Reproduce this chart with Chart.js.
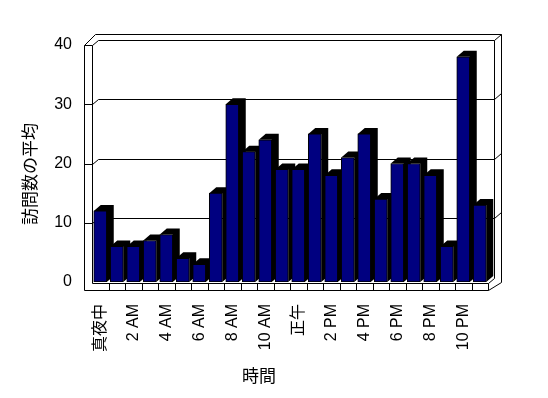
<!DOCTYPE html>
<html lang="ja">
<head>
<meta charset="UTF-8">
<title>訪問数の平均</title>
<script src="https://cdn.jsdelivr.net/npm/chart.js"></script>
<style>
  body { margin: 0; background: #fff; }
  #wrap { width: 548px; height: 398px; }
</style>
</head>
<body>
<div id="wrap"><canvas id="chart" width="548" height="398"></canvas></div>
<script>
// data
const hours = ['真夜中', '1 AM', '2 AM', '3 AM', '4 AM', '5 AM', '6 AM', '7 AM', '8 AM', '9 AM', '10 AM', '11 AM',
  '正午', '1 PM', '2 PM', '3 PM', '4 PM', '5 PM', '6 PM', '7 PM', '8 PM', '9 PM', '10 PM', '11 PM'];
const visits = [12, 6, 6, 7, 8, 4, 3, 15, 30, 22, 24, 19, 19, 25, 18, 21, 25, 14, 20, 20, 18, 6, 38, 13];
const yTicks = [0, 10, 20, 30, 40];
const yTitle = '訪問数の平均';
const xTitle = '時間';

const FONT = "'Liberation Sans', 'Noto Sans CJK JP', sans-serif";
const WALL_DX = 6, WALL_DY = 5;   // front plane -> back wall
const BAR_DX = 7, BAR_DY = 6;     // bar depth
const px = v => Math.round(v) + 0.5;

// walls, floor and gridlines drawn like an old 3D column chart
const frame3d = {
  id: 'frame3d',
  beforeDatasetsDraw(chart) {
    const { ctx, chartArea: a, scales: { x, y } } = chart;
    const L = a.left, R = a.right, B = a.bottom;
    const OL = L - 8, OR = R + WALL_DX + 7;
    const topY = y.getPixelForValue(yTicks[yTicks.length - 1]);
    const line = pts => {
      ctx.beginPath();
      pts.forEach(([qx, qy], i) => i ? ctx.lineTo(px(qx), px(qy)) : ctx.moveTo(px(qx), px(qy)));
      ctx.stroke();
    };
    ctx.save();
    ctx.strokeStyle = '#000';
    ctx.lineWidth = 1;

    yTicks.slice(1).forEach(v => {
      const yy = y.getPixelForValue(v);
      line([[OL, yy], [L, yy], [L + WALL_DX, yy - WALL_DY], [R + WALL_DX, yy - WALL_DY], [OR, yy - WALL_DY - 6]]);
    });
    // outer shell
    line([[OL, B + 8], [OL, topY], [OL + 11, topY - 11], [OR, topY - 11], [OR, B], [R, B + 8], [OL, B + 8]]);
    // inner edges
    line([[L, topY], [L, B + 1], [R, B + 1], [R + WALL_DX, B + 1 - WALL_DY], [R + WALL_DX, topY - WALL_DY]]);
    line([[R, B + 1], [R, B + 8]]);
    // category ticks on the floor
    for (let i = 1; i < hours.length; i++) {
      const xx = (x.getPixelForValue(i - 1) + x.getPixelForValue(i)) / 2;
      line([[xx, B + 1], [xx, B + 8]]);
    }
    // bar depth
    ctx.fillStyle = '#000';
    chart.getDatasetMeta(0).data.forEach(bar => {
      const x0 = bar.x - bar.width / 2, x1 = bar.x + bar.width / 2;
      ctx.beginPath();
      ctx.moveTo(x0, bar.y);
      ctx.lineTo(x0 + BAR_DX, bar.y - BAR_DY);
      ctx.lineTo(x1 + BAR_DX, bar.y - BAR_DY);
      ctx.lineTo(x1 + BAR_DX, bar.base - BAR_DY);
      ctx.lineTo(x1, bar.base);
      ctx.lineTo(x1, bar.y);
      ctx.closePath();
      ctx.fill();
    });
    ctx.restore();
  },
  afterDraw(chart) {
    const { ctx } = chart;
    ctx.save();
    ctx.fillStyle = '#000';
    ctx.font = '17px ' + FONT;
    ctx.textAlign = 'center';
    ctx.textBaseline = 'middle';
    ctx.fillText(xTitle, 259, 377);
    ctx.translate(31, 174);
    ctx.rotate(-Math.PI / 2);
    ctx.fillText(yTitle, 0, 0);
    ctx.restore();
  }
};

new Chart(document.getElementById('chart'), {
  type: 'bar',
  data: {
    labels: hours,
    datasets: [{
      data: visits,
      backgroundColor: '#000080',
      borderColor: '#000',
      borderWidth: 1,
      borderSkipped: false,
      barThickness: 13
    }]
  },
  options: {
    responsive: false,
    animation: false,
    devicePixelRatio: 1,
    layout: { padding: { top: 45, right: 60, bottom: 0, left: 0 } },
    plugins: { legend: { display: false }, tooltip: { enabled: false } },
    scales: {
      x: {
        grid: { display: false, drawTicks: false },
        border: { display: false },
        afterFit: s => { s.height = 116; },
        ticks: {
          autoSkip: false,
          minRotation: 90,
          maxRotation: 90,
          padding: 22,
          color: '#000',
          font: { family: FONT, size: 16 },
          callback: (v, i) => i % 2 === 0 ? hours[i] : ''
        }
      },
      y: {
        min: 0,
        max: 40,
        grid: { display: false, drawTicks: false },
        border: { display: false },
        afterFit: s => { s.width = 92; },
        afterBuildTicks: s => { s.ticks = yTicks.map(v => ({ value: v })); },
        ticks: {
          padding: 20,
          color: '#000',
          font: { family: FONT, size: 16 }
        }
      }
    }
  },
  plugins: [frame3d]
});
</script>
</body>
</html>
